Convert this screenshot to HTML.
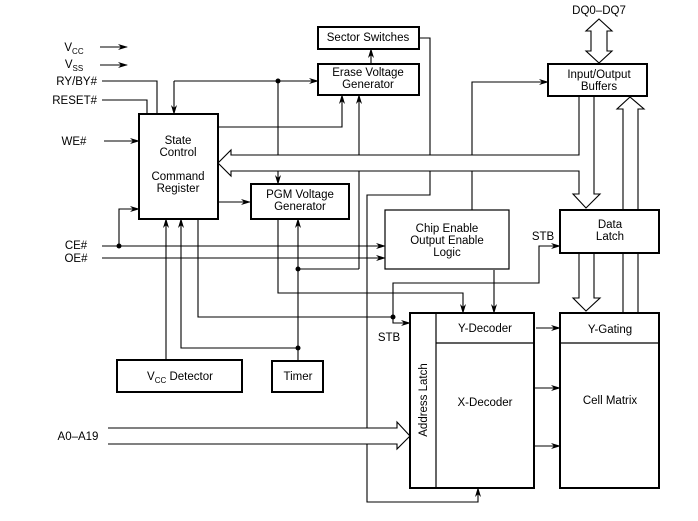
<!DOCTYPE html>
<html><head><meta charset="utf-8"><style>
html,body{margin:0;padding:0;background:#fff;}
svg{display:block;font-family:"Liberation Sans",sans-serif;font-size:11.5px;}
</style></head><body>
<svg width="698" height="521" viewBox="0 0 698 521" xmlns="http://www.w3.org/2000/svg">
<defs>
<marker id="a" markerWidth="10" markerHeight="8" refX="9" refY="4" orient="auto" markerUnits="userSpaceOnUse">
<path d="M0,1 L10,4 L0,7 L3,4 z" fill="#000"/></marker>
</defs>
<g fill="none" stroke="#000" stroke-width="1.1">
<line x1="100" y1="47" x2="127" y2="47" marker-end="url(#a)"/>
<line x1="100" y1="65" x2="127" y2="65" marker-end="url(#a)"/>
<polyline points="102,81 157,81 157,114"/>
<polyline points="102,100 147,100 147,114"/>
<line x1="104" y1="141" x2="139" y2="141" marker-end="url(#a)"/>
<line x1="102" y1="246" x2="385" y2="246" marker-end="url(#a)"/>
<line x1="102" y1="258" x2="385" y2="258" marker-end="url(#a)"/>
<polyline points="119,246 119,209 139,209" marker-end="url(#a)"/>
<line x1="174" y1="81" x2="318" y2="81" marker-end="url(#a)"/>
<line x1="174" y1="81" x2="174" y2="114" marker-end="url(#a)"/>
<line x1="278" y1="81" x2="278" y2="184" marker-end="url(#a)"/>
<polyline points="218,127 342,127 342,95" marker-end="url(#a)"/>
<line x1="371" y1="64" x2="371" y2="49" marker-end="url(#a)"/>
<line x1="359" y1="269" x2="359" y2="95" marker-end="url(#a)"/>
<polyline points="419,38 430,38 430,195 367,195 367,502 478,502 478,488" marker-end="url(#a)"/>
<polyline points="472,210 472,82 548,82" marker-end="url(#a)"/>
<line x1="218" y1="202" x2="250" y2="202" marker-end="url(#a)"/>
<line x1="298" y1="361" x2="298" y2="219" marker-end="url(#a)"/>
<line x1="298" y1="269" x2="359" y2="269"/>
<polyline points="298,348 181,348 181,219" marker-end="url(#a)"/>
<line x1="166" y1="360" x2="166" y2="219" marker-end="url(#a)"/>
<polyline points="278,219 278,293 463,293 463,313" marker-end="url(#a)"/>
<line x1="494" y1="270" x2="494" y2="313" marker-end="url(#a)"/>
<polyline points="198,219 198,317 393,317"/>
<polyline points="393,317 393,323 410,323" marker-end="url(#a)"/>
<polyline points="393,317 393,283 539,283 539,246 560,246" marker-end="url(#a)"/>
<line x1="536" y1="328" x2="560" y2="328" marker-end="url(#a)"/>
<line x1="534" y1="388" x2="560" y2="388" marker-end="url(#a)"/>
<line x1="534" y1="446" x2="560" y2="446" marker-end="url(#a)"/>
<polyline points="579,95 579,155 231,155 231,150 218,163 231,176 231,171 579,171 579,194 573,194 586,208 600,194 594,194 594,95" fill="#fff"/>
<polyline points="579,253 579,298 573,298 586,311 600,298 594,298 594,253" fill="#fff"/>
<polyline points="623,313 623,109 617,109 630,97 644,109 638,109 638,313" fill="#fff"/>
<polygon points="599,19 612,31 607,31 607,51 612,51 599,63 586,51 591,51 591,31 586,31" fill="#fff"/>
<polygon points="108,428 397,428 397,422 410,436 397,449 397,444 108,444" fill="#fff" stroke="none"/>
<polyline points="108,428 397,428 397,422 410,436 397,449 397,444 108,444"/>
</g>
<g fill="#000">
<circle cx="278" cy="81" r="2.5"/><circle cx="119" cy="246" r="2.5"/>
<circle cx="298" cy="269" r="2.5"/><circle cx="298" cy="348" r="2.5"/>
<circle cx="393" cy="317" r="2.5"/>
</g>
<g fill="#fff" stroke="#000" stroke-width="2">
<rect x="318" y="27" width="101" height="22"/>
<rect x="318" y="64" width="101" height="31"/>
<rect x="139" y="114" width="79" height="105"/>
<rect x="251" y="184" width="98" height="35"/>
<rect x="548" y="64" width="99" height="32"/>
<rect x="385" y="210" width="124" height="59" stroke-width="1.2"/>
<rect x="560" y="210" width="99" height="43"/>
<rect x="410" y="313" width="124" height="175"/>
<rect x="560" y="313" width="99" height="175"/>
<rect x="117" y="360" width="125" height="32"/>
<rect x="272" y="361" width="51" height="31"/>
</g>
<g stroke="#000" stroke-width="1.2">
<line x1="436" y1="313" x2="436" y2="488"/>
<line x1="436" y1="343" x2="534" y2="343"/>
<line x1="560" y1="343" x2="659" y2="343"/>
</g>
<g fill="#000" text-anchor="middle">
<text x="74" y="51">V<tspan font-size="8" dy="3">CC</tspan></text>
<text x="74" y="68">V<tspan font-size="8" dy="3">SS</tspan></text>
<text x="97" y="85" text-anchor="end">RY/BY#</text>
<text x="97" y="104" text-anchor="end">RESET#</text>
<text x="74" y="145">WE#</text>
<text x="76" y="249">CE#</text>
<text x="76" y="262">OE#</text>
<text x="78" y="440">A0–A19</text>
<text x="368" y="41">Sector Switches</text>
<text x="368" y="76">Erase Voltage</text>
<text x="368" y="88">Generator</text>
<text x="178" y="144">State</text>
<text x="178" y="156">Control</text>
<text x="178" y="180">Command</text>
<text x="178" y="192">Register</text>
<text x="300" y="198">PGM Voltage</text>
<text x="300" y="210">Generator</text>
<text x="599" y="78">Input/Output</text>
<text x="599" y="90">Buffers</text>
<text x="599" y="14">DQ0–DQ7</text>
<text x="447" y="232">Chip Enable</text>
<text x="447" y="244">Output Enable</text>
<text x="447" y="256">Logic</text>
<text x="610" y="228">Data</text>
<text x="610" y="240">Latch</text>
<text x="543" y="240">STB</text>
<text x="389" y="341">STB</text>
<text x="485" y="332">Y-Decoder</text>
<text x="485" y="406">X-Decoder</text>
<text x="610" y="333">Y-Gating</text>
<text x="610" y="404">Cell Matrix</text>
<text x="180" y="380">V<tspan font-size="8" dy="3">CC</tspan><tspan dy="-3"> Detector</tspan></text>
<text x="298" y="380">Timer</text>
<text x="0" y="0" transform="translate(427,400) rotate(-90)">Address Latch</text>
</g>
</svg>
</body></html>
